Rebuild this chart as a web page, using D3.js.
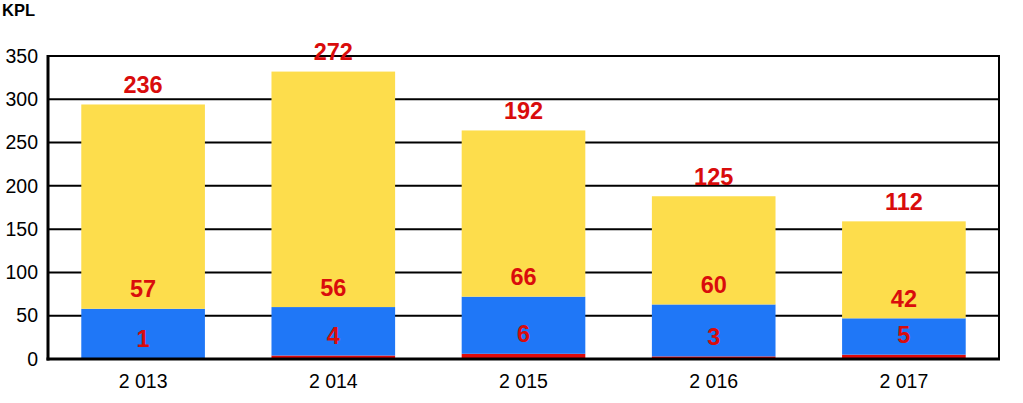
<!DOCTYPE html>
<html><head><meta charset="utf-8">
<script src="https://cdn.jsdelivr.net/npm/d3@7"></script>
<style>body{margin:0;background:#fff}svg{display:block}</style>
</head><body>
<svg id="c" width="1023" height="403"></svg>
<script>
const years = ["2 013","2 014","2 015","2 016","2 017"];
const redVals = [1,4,6,3,5];
const blueVals = [57,56,66,60,42];
const yellowVals = [236,272,192,125,112];
const yTicks = [0,50,100,150,200,250,300,350];
const unitLabel = "KPL";

const svg = d3.select("#c");
const m = {l:48, r:999, t:56, b:359};
const x = d3.scaleBand().domain(years).range([m.l, m.r]).paddingInner(0.35).paddingOuter(0.175);
const y = d3.scaleLinear().domain([0,350]).range([m.b, m.t]);

const series = [
  {vals: redVals, color:"#e00b0b"},
  {vals: blueVals, color:"#1f77f7"},
  {vals: yellowVals, color:"#fddd4c"}
];

// gridlines
svg.append("g").selectAll("line").data(yTicks.filter(d=>d>0)).join("line")
  .attr("x1", m.l).attr("x2", m.r).attr("y1", d=>y(d)).attr("y2", d=>y(d))
  .attr("stroke","#000").attr("stroke-width",2);

// stacks
const stackData = years.map((yr,i)=>({yr, r:redVals[i], b:blueVals[i], yl:yellowVals[i]}));
const stack = d3.stack().keys(["r","b","yl"])(stackData);
stack.forEach((layer, li)=>{
  svg.append("g").selectAll("rect").data(layer).join("rect")
    .attr("x", d=>x(d.data.yr)).attr("width", x.bandwidth())
    .attr("y", d=>y(d[1])).attr("height", d=>y(d[0])-y(d[1]))
    .attr("fill", series[li].color);
});

// frame
svg.append("rect").attr("x",m.l).attr("y",m.t).attr("width",m.r-m.l).attr("height",m.b-m.t)
  .attr("fill","none").attr("stroke","#000").attr("stroke-width",2);
svg.append("line").attr("x1",m.l).attr("x2",m.l).attr("y1",m.t-1).attr("y2",m.b+1.5).attr("stroke","#000").attr("stroke-width",3);
svg.append("line").attr("x1",m.l-1.5).attr("x2",m.r+1).attr("y1",m.b).attr("y2",m.b).attr("stroke","#000").attr("stroke-width",3);

const font = "Liberation Sans, Arial, sans-serif";
// y axis labels
const yAxis = d3.axisLeft(y).tickValues(yTicks).tickSize(0).tickPadding(10);
const ga = svg.append("g").attr("transform",`translate(${m.l},0)`).call(yAxis);
ga.select(".domain").remove();
ga.selectAll("text").attr("font-family",font).attr("font-size",19.5).attr("fill","#000");

// x axis labels
const xAxis = d3.axisBottom(x).tickSize(0).tickPadding(15);
const gx = svg.append("g").attr("transform",`translate(0,${m.b})`).call(xAxis);
gx.select(".domain").remove();
gx.selectAll("text").attr("font-family",font).attr("font-size",19.5).attr("fill","#000");

// value labels
stack.forEach((layer, li)=>{
  svg.append("g").selectAll("text").data(layer).join("text")
    .attr("x", d=>x(d.data.yr)+x.bandwidth()/2)
    .attr("y", d=>y(d[1])-20)
    .attr("dy","0.36em")
    .attr("text-anchor","middle")
    .attr("font-family",font)
    .attr("font-weight","bold").attr("font-size",23.5).attr("fill","#d90c0c")
    .text(d=>d[1]-d[0]);
});

svg.append("text").attr("x",2).attr("y",16).attr("font-family",font)
  .attr("font-weight","bold").attr("font-size",16.5).attr("fill","#000").text(unitLabel);
</script>
</body></html>
